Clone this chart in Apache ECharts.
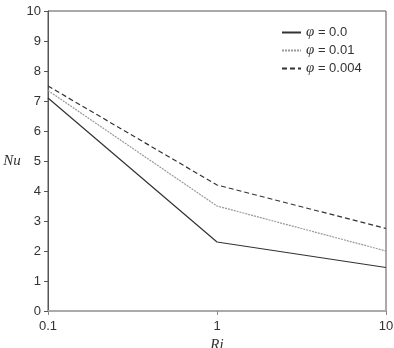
<!DOCTYPE html>
<html>
<head>
<meta charset="utf-8">
<script src="https://cdn.jsdelivr.net/npm/echarts@6/dist/echarts.min.js"></script>
<style>
  html, body { margin: 0; padding: 0; background: #fff; }
  #chart { width: 394px; height: 348px; }
</style>
</head>
<body>
<div id="chart"></div>
<script>
// Ri values (log axis)
const riValues = [0.1, 1, 10];
const nuPhi0 = [7.1, 2.3, 1.45];
const nuPhi001 = [7.35, 3.5, 2.0];
const nuPhi0004 = [7.5, 4.2, 2.75];
const seriesNames = ['φ = 0.0', 'φ = 0.01', 'φ = 0.004'];

const pairs = (ys) => riValues.map((x, i) => [x, ys[i]]);

const sans = '"Liberation Sans", Arial, sans-serif';
const serif = '"Liberation Serif", "Times New Roman", serif';

const chart = echarts.init(document.getElementById('chart'));

const option = {
  animation: false,
  textStyle: { fontFamily: sans },
  grid: {
    left: 48,
    top: 11,
    right: 8,
    bottom: 37,
    outerBoundsMode: 'none',
    containLabel: false,
    show: true,
    borderColor: '#555',
    borderWidth: 1,
  },
  legend: {
    orient: 'vertical',
    left: 276,
    top: 20,
    itemWidth: 19,
    itemHeight: 12,
    itemGap: 3,
    data: seriesNames,
    itemStyle: { color: 'transparent', borderWidth: 0, opacity: 0 },
    formatter: (name) => '{i|φ}' + name.slice(1),
    textStyle: {
      color: '#333',
      fontFamily: sans,
      fontSize: 13,
      rich: {
        i: { fontFamily: serif, fontStyle: 'italic', fontSize: 15, color: '#333' },
      },
    },
  },
  xAxis: {
    type: 'log',
    logBase: 10,
    min: 0.1,
    max: 10,
    name: 'Ri',
    nameLocation: 'middle',
    nameGap: 24,
    nameTextStyle: { fontFamily: serif, fontStyle: 'italic', fontSize: 15, color: '#333' },
    axisLine: { lineStyle: { color: '#aaa', width: 2 } },
    axisTick: { show: true, length: 4, lineStyle: { color: '#888' } },
    minorTick: { show: false },
    splitLine: { show: false },
    axisLabel: {
      color: '#333',
      fontFamily: sans,
      fontSize: 13,
      margin: 9,
      formatter: (v) => String(v),
    },
  },
  yAxis: {
    type: 'value',
    min: 0,
    max: 10,
    interval: 1,
    name: 'Nu',
    nameLocation: 'middle',
    nameRotate: 0,
    nameGap: 25,
    nameTextStyle: { fontFamily: serif, fontStyle: 'italic', fontSize: 15, color: '#333' },
    axisLine: { show: true, lineStyle: { color: '#555', width: 1 } },
    axisTick: { show: true, length: 4, lineStyle: { color: '#555' } },
    splitLine: { show: false },
    axisLabel: { color: '#333', fontFamily: sans, fontSize: 13, margin: 7 },
  },
  series: [
    {
      name: seriesNames[0],
      type: 'line',
      symbol: 'none',
      data: pairs(nuPhi0),
      lineStyle: { color: '#333', width: 1.2, type: 'solid' },
      itemStyle: { color: '#333' },
    },
    {
      name: seriesNames[1],
      type: 'line',
      symbol: 'none',
      data: pairs(nuPhi001),
      lineStyle: { color: '#999', width: 1.2, type: [2, 1] },
      itemStyle: { color: '#999' },
    },
    {
      name: seriesNames[2],
      type: 'line',
      symbol: 'none',
      data: pairs(nuPhi0004),
      lineStyle: { color: '#333', width: 1.2, type: [5, 3] },
      itemStyle: { color: '#333' },
    },
  ],
};

chart.setOption(option);
</script>
</body>
</html>
